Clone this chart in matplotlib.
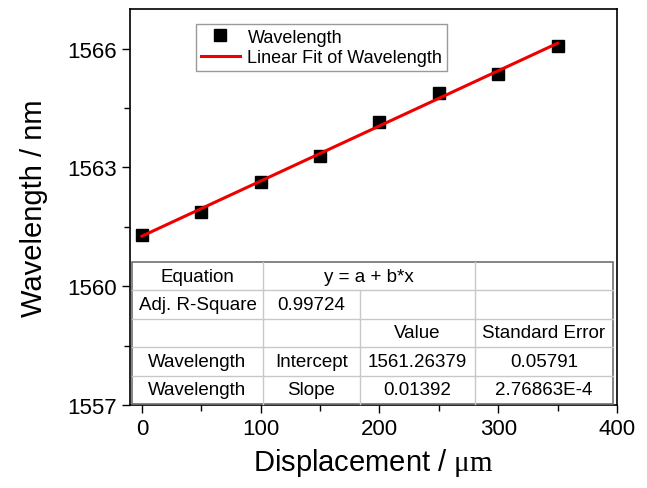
import matplotlib
matplotlib.use("Agg")
import matplotlib.pyplot as plt
from matplotlib.lines import Line2D
from matplotlib.patches import Rectangle
import numpy as np

plt.rcParams['font.family'] = ['Liberation Sans', 'DejaVu Sans']
plt.rcParams['mathtext.fontset'] = 'custom'
plt.rcParams['mathtext.rm'] = 'Liberation Serif'

# ---- data ----
displacement = [0, 50, 100, 150, 200, 250, 300, 350]
wavelength = [1561.29, 1561.88, 1562.62, 1563.29, 1564.14, 1564.89, 1565.36, 1566.07]
intercept = 1561.26379
slope = 0.01392

x_ticks = [0, 100, 200, 300, 400]
y_ticks = [1557, 1560, 1563, 1566]

table_rows = [
    ["Equation", "y = a + b*x", None, ""],
    ["Adj. R-Square", "0.99724", "", ""],
    ["", "", "Value", "Standard Error"],
    ["Wavelength", "Intercept", "1561.26379", "0.05791"],
    ["Wavelength", "Slope", "0.01392", "2.76863E-4"],
]

W, H = 647, 489
fig = plt.figure(figsize=(W / 100, H / 100), dpi=100)
ax = fig.add_axes([130 / W, (H - 406) / H, 487 / W, 396 / H])

fit_x = np.array([displacement[0], displacement[-1]])
fit_y = intercept + slope * fit_x
ax.plot(displacement, wavelength, 's', color='black', markersize=8, zorder=3,
        label='Wavelength')
ax.plot(fit_x, fit_y, '-', color='#ee0000', linewidth=2.2, zorder=4,
        label='Linear Fit of Wavelength')

ax.set_xlim(-10, 400)
ax.set_ylim(1557, 1567)
ax.set_xticks(x_ticks)
ax.set_yticks(y_ticks)
ax.set_xticks(np.arange(50, 400, 100), minor=True)
ax.set_yticks(np.arange(1558.5, 1567, 3), minor=True)
ax.tick_params(axis='both', which='major', labelsize=16, length=6, width=1, direction='out')
ax.tick_params(axis='both', which='minor', length=4, width=1, direction='out')
for s in ax.spines.values():
    s.set_linewidth(1.2)

ax.set_xlabel('Displacement / $\\mathrm{\\mu m}$', fontsize=21, labelpad=5)
ax.set_ylabel('Wavelength / nm', fontsize=21, labelpad=14)

leg = ax.legend(loc='upper left', bbox_to_anchor=((196 - 130) / 487, (406 - 25) / 396),
                fontsize=13, frameon=True, fancybox=False, edgecolor='#808080',
                borderpad=0.25, handlelength=2.2, handletextpad=0.4, labelspacing=0.2,
                borderaxespad=0)
leg.get_frame().set_linewidth(1)

# ---- table drawn in figure pixel coordinates ----
tx0, tx1 = 132, 613
ty0, ty1 = 263, 405
col_edges = [132, 263, 360, 475, 613]
nrows = len(table_rows)
rh = (ty1 - ty0) / nrows

def fx(px):
    return px / W

def fy(py):
    return (H - py) / H

fig.patches.append(Rectangle((fx(tx0), fy(ty1)), fx(tx1) - fx(tx0), fy(ty0) - fy(ty1),
                             transform=fig.transFigure, facecolor='white',
                             edgecolor='#707070', linewidth=1.2, zorder=5))
inner = '#c8c8c8'
for r in range(1, nrows):
    yy = ty0 + r * rh
    fig.lines.append(Line2D([fx(tx0), fx(tx1)], [fy(yy), fy(yy)], transform=fig.transFigure,
                            color=inner, linewidth=1, zorder=6))
for r, row in enumerate(table_rows):
    ya, yb = ty0 + r * rh, ty0 + (r + 1) * rh
    for c in range(1, 4):
        if row[c] is None:
            continue
        xx = col_edges[c]
        fig.lines.append(Line2D([fx(xx), fx(xx)], [fy(ya), fy(yb)], transform=fig.transFigure,
                                color=inner, linewidth=1, zorder=6))
    c = 0
    while c < 4:
        text = row[c]
        span = 1
        while c + span < 4 and row[c + span] is None:
            span += 1
        if text:
            xc = (col_edges[c] + col_edges[c + span]) / 2
            fig.text(fx(xc), fy((ya + yb) / 2), text, ha='center', va='center',
                     fontsize=13.5, zorder=7)
        c += span

fig.savefig('out.png', dpi=100)
